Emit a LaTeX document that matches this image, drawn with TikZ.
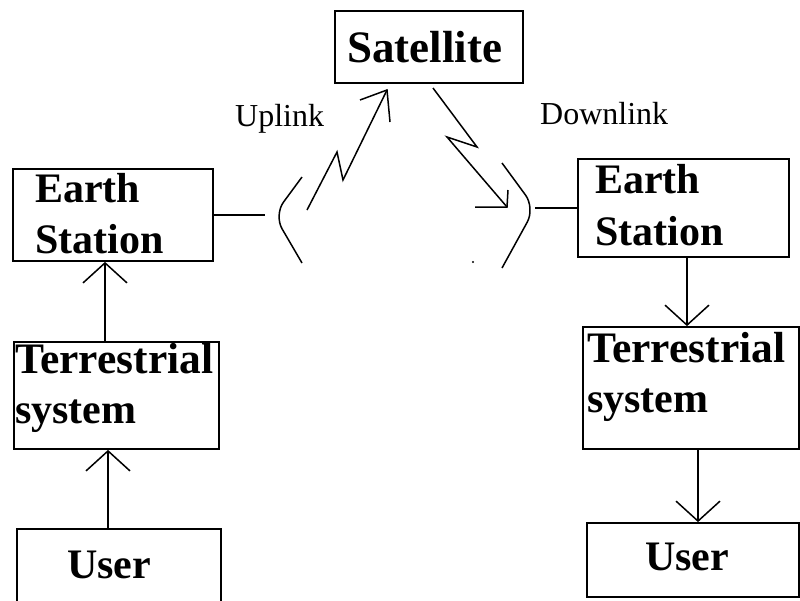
\documentclass[tikz,border=0pt]{standalone}
\usepackage{fontspec}
\setmainfont{Liberation Serif}
\usetikzlibrary{arrows.meta}
\begin{document}
\begin{tikzpicture}[x=1pt,y=-1pt,
  box/.style={draw, line width=1.8pt, rectangle, inner sep=0pt},
  btxt/.style={font=\fontsize{42}{50}\selectfont\bfseries, inner sep=0pt, anchor=base west},
  ltxt/.style={font=\fontsize{32}{38}\selectfont, inner sep=0pt, anchor=base west},
  conn/.style={line width=1.5pt},
  arr/.style={conn, -{Straight Barb[length=20pt,width=44pt,line width=1.5pt]}},
  brk/.style={line width=1.5pt, rounded corners=16pt}
]
\clip (0,0) rectangle (800,600);
\fill[white] (0,0) rectangle (800,600);

% boxes
\node[box, minimum width=188pt, minimum height=72pt] (sat) at (429,47) {};
\node[box, minimum width=200pt, minimum height=92pt] (les) at (113,215) {};
\node[box, minimum width=205pt, minimum height=107pt] (lts) at (116.5,395.5) {};
\node[box, minimum width=204pt, minimum height=91pt] (lus) at (119,574.5) {};
\node[box, minimum width=211pt, minimum height=98pt] (res) at (683.5,208) {};
\node[box, minimum width=216pt, minimum height=122pt] (rts) at (691,388) {};
\node[box, minimum width=212pt, minimum height=74pt] (rus) at (693,560) {};

% texts
\node[btxt, font=\fontsize{45}{50}\selectfont\bfseries] (satT) at (347,62) {Satellite};
\node[btxt] (lesA) at (35,202) {Earth};
\node[btxt] (lesB) at (35,253) {Station};
\node[btxt, font=\fontsize{43.5}{50}\selectfont\bfseries] (ltsA) at (15,373) {Terrestrial};
\node[btxt] (ltsB) at (15,423) {system};
\node[btxt] (lusA) at (67,578) {User};
\node[btxt] (resA) at (595,193) {Earth};
\node[btxt] (resB) at (595,245) {Station};
\node[btxt, font=\fontsize{43.5}{50}\selectfont\bfseries] (rtsA) at (587,362) {Terrestrial};
\node[btxt] (rtsB) at (587,412) {system};
\node[btxt] (rusA) at (645,570) {User};
\node[ltxt] (up) at (235,126) {Uplink};
\node[ltxt] (down) at (540,124) {Downlink};

% vertical arrows
\draw[arr] (105,0 |- lts.north) -- (105,0 |- les.south);
\draw[arr] (108,0 |- lus.north) -- (108,0 |- lts.south);
\draw[arr] (687,0 |- res.south) -- (687,0 |- rts.north);
\draw[arr] (698,0 |- rts.south) -- (698,0 |- rus.north);

% antennas
\coordinate (la) at (265,215);
\draw[conn] (les.east) -- (la);
\draw[brk] (302,177) -- (274,215) -- (302,263);
\coordinate (ra) at (535,208);
\draw[conn] (ra) -- (res.west);
\draw[brk] (502,163) -- (535,208) -- (502,268);

% uplink
\coordinate (u0) at (307,210);
\coordinate (u1) at (337,152);
\coordinate (u2) at (343,180);
\coordinate (u3) at (387,90);
\coordinate (uw1) at (360,100);
\coordinate (uw2) at (390,122);
\draw[conn] (u0) -- (u1) -- (u2) -- (u3);
\draw[conn] (uw1) -- (u3) -- (uw2);

% downlink
\coordinate (d0) at (433,88);
\coordinate (d1) at (477,147);
\coordinate (d2) at (447,137);
\coordinate (d3) at (507,207);
\coordinate (dw1) at (475,207);
\coordinate (dw2) at (508,190);
\draw[conn] (d0) -- (d1) -- (d2) -- (d3);
\draw[conn] (dw1) -- (d3) -- (dw2);

\fill (473,262) circle (1.2pt);
\end{tikzpicture}
\end{document}
